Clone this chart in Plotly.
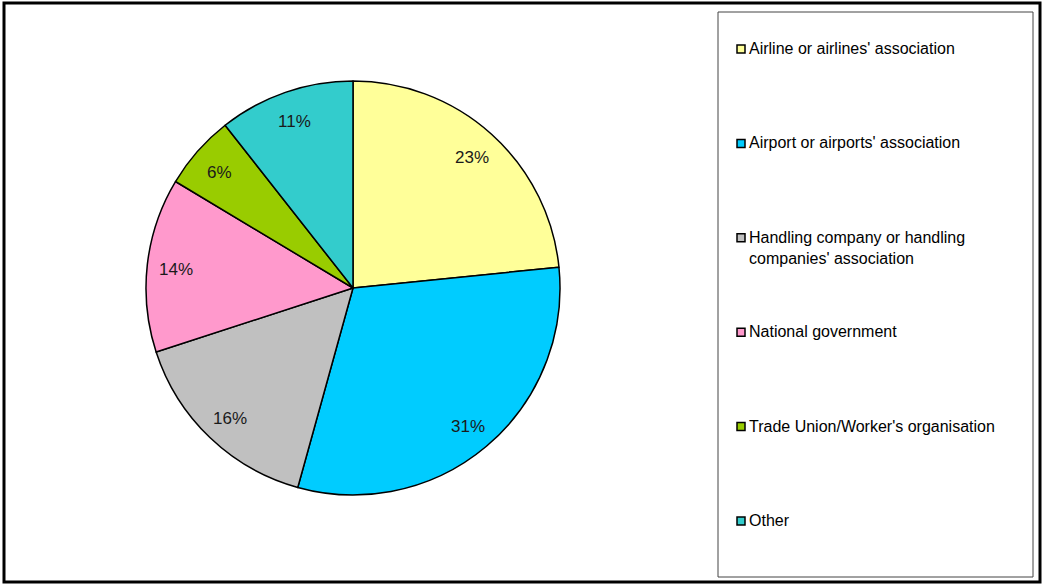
import math
import textwrap
import plotly.graph_objects as go

# ---- data ----
categories = [
    "Airline or airlines' association",
    "Airport or airports' association",
    "Handling company or handling companies' association",
    "National government",
    "Trade Union/Worker's organisation",
    "Other",
]
values = [23.4, 30.9, 15.7, 13.6, 5.8, 10.6]
colors = ["#FFFF99", "#00CCFF", "#C0C0C0", "#FF99CC", "#99CC00", "#33CCCC"]

W, H = 1044, 585
# pie geometry (pixels)
cx, cy, r = 353, 288, 207


def px(x):
    return x / W


def py(y):
    return 1 - y / H


fig = go.Figure()
fig.add_trace(go.Pie(
    labels=categories,
    values=values,
    sort=False,
    direction="clockwise",
    rotation=0,
    marker=dict(colors=colors, line=dict(color="black", width=1.5)),
    textinfo="none",
    hoverinfo="label+percent",
    showlegend=False,
    domain=dict(x=[px(cx - r), px(cx + r)], y=[py(cy + r), py(cy - r)]),
))

annotations = []
shapes = []

# percentage labels placed along the mid-angle of each slice
total = sum(values)
acc = 0.0
for v in values:
    mid = (acc + v / 2) / total * 2 * math.pi
    acc += v
    lx = cx + 0.86 * r * math.sin(mid)
    ly = cy - 0.86 * r * math.cos(mid) + 2
    annotations.append(dict(
        x=px(lx), y=py(ly), xref="paper", yref="paper",
        text=f"{round(v / total * 100)}%", showarrow=False,
        xanchor="center", yanchor="middle",
        font=dict(family="Liberation Sans, Arial, sans-serif", size=17, color="#1a1a1a"),
    ))

# legend box
lx0, ly0, lx1, ly1 = 718, 12, 1033, 577
shapes.append(dict(type="rect", xref="paper", yref="paper",
                   x0=px(lx0), x1=px(lx1), y0=py(ly1), y1=py(ly0),
                   line=dict(color="#444", width=1), fillcolor="rgba(0,0,0,0)"))
item_y0, step = 49, 94.4
for i, (lab, col) in enumerate(zip(categories, colors)):
    yy = item_y0 + i * step
    shapes.append(dict(type="rect", xref="paper", yref="paper",
                       x0=px(737), x1=px(745), y0=py(yy + 4), y1=py(yy - 4),
                       line=dict(color="black", width=1.5), fillcolor=col))
    annotations.append(dict(
        x=px(747), y=py(yy - 11), xref="paper", yref="paper",
        text="<br>".join(textwrap.wrap(lab, 33)), showarrow=False,
        xanchor="left", yanchor="top", align="left",
        font=dict(family="Liberation Sans, Arial, sans-serif", size=16, color="black"),
    ))

# outer frame
shapes.append(dict(type="rect", xref="paper", yref="paper",
                   x0=px(4), x1=px(1040), y0=py(582), y1=py(3),
                   line=dict(color="black", width=3), fillcolor="rgba(0,0,0,0)"))

fig.update_layout(
    width=W, height=H,
    margin=dict(l=0, r=0, t=0, b=0),
    paper_bgcolor="white", plot_bgcolor="white",
    annotations=annotations, shapes=shapes,
)
fig.write_html("out.html", config={"displayModeBar": False},
               post_script="document.body.style.margin='0';")
